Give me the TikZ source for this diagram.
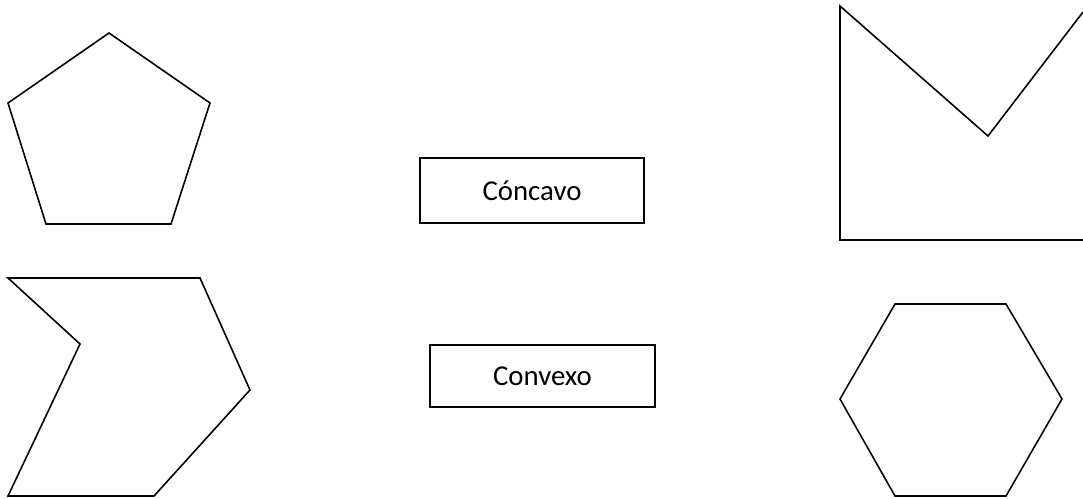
\documentclass[tikz,border=0pt]{standalone}
\usepackage{fontspec}
\setmainfont{Carlito}
\usepackage{tikz}

\tikzset{
    caja/.style={draw, line width=0.9pt, inner sep=0pt, font=\fontsize{16.4}{19}\selectfont},
}

\begin{document}
\begin{tikzpicture}[x=0.02cm, y=-0.02cm, line width=0.9pt, line join=miter]
    \useasboundingbox (0,0) rectangle (1083,498);
    % pentagono
    \draw (109,33) -- (210,103) -- (171,224) -- (46,224) -- (8,103) -- cycle;
    % figura de flecha
    \draw (8,278) -- (200,278) -- (250,390) -- (154,496) -- (8,496) -- (80,344) -- cycle;
    % figura en V (cortada por el borde)
    \draw (1083,12) -- (988,136) -- (840,6) -- (840,240) -- (1083,240);
    % hexagono
    \draw (895,304) -- (1006,304) -- (1062,399) -- (1006,496) -- (895,496) -- (840,399) -- cycle;
    % etiquetas
    \node[caja, minimum width=4.48cm, minimum height=1.3cm] (concavo) at (532,190.5) {Cóncavo};
    \node[caja, minimum width=4.5cm, minimum height=1.24cm] (convexo) at (542.5,376) {Convexo};
\end{tikzpicture}
\end{document}
